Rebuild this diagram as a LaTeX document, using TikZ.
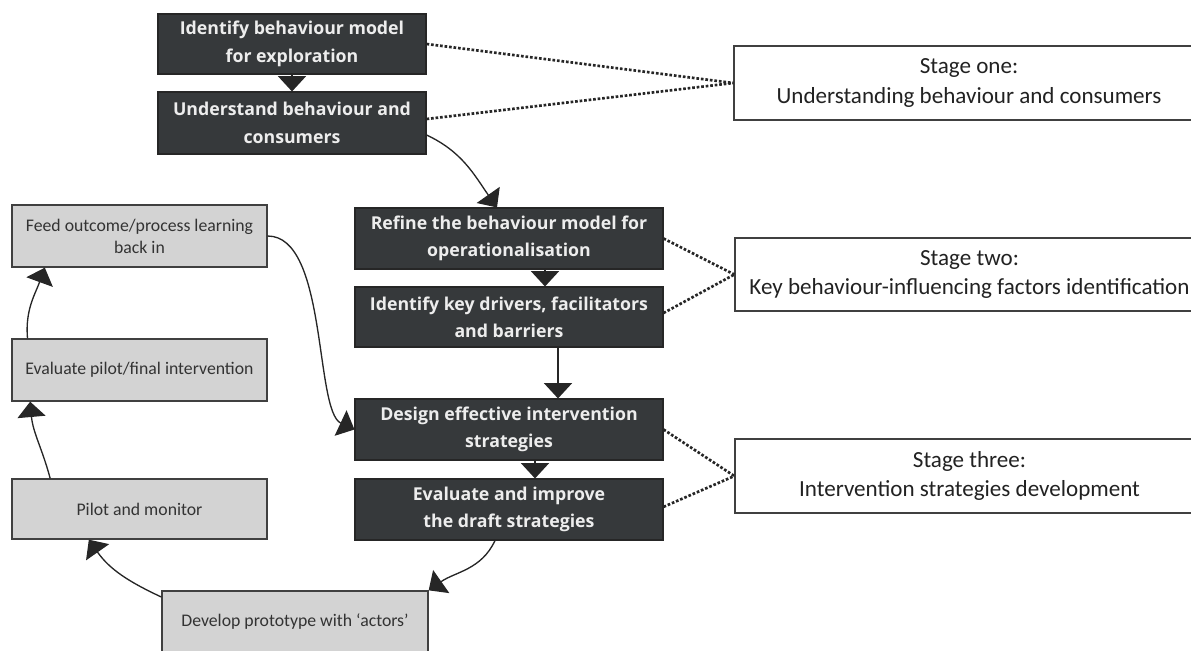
\documentclass[tikz,border=0pt]{standalone}
\usepackage{fontspec}
\setmainfont{Carlito}
\newfontfamily\darkfont{Open Sans}
\usetikzlibrary{arrows.meta,calc}
\definecolor{darkbox}{HTML}{36393B}
\definecolor{darktext}{HTML}{EDEDED}
\definecolor{lightbox}{HTML}{D3D3D3}
\definecolor{lighttext}{HTML}{333333}
\definecolor{stagetext}{HTML}{222222}
\tikzset{
  darknode/.style={draw=black!85, line width=0.8pt, fill=darkbox, text=darktext,
    font=\darkfont\bfseries\fontsize{13.3}{20.5}\selectfont, align=center, inner sep=0pt},
  lightnode/.style={draw=black!75, line width=1pt, fill=lightbox, text=lighttext,
    font=\fontsize{13.3}{16.5}\selectfont, align=center, inner sep=0pt},
  stagenode/.style={draw=black!75, line width=1pt, fill=white, text=stagetext,
    font=\fontsize{17.3}{22}\selectfont, align=center, inner sep=0pt},
  arr/.style={line width=1pt, black!85, -{Triangle[width=21pt,length=11.5pt]}},
  dotline/.style={line width=2pt, black!85, dash pattern=on 2pt off 1.4pt}
}
\begin{document}
\begin{tikzpicture}[x=0.75pt,y=-0.75pt]
\useasboundingbox (0,0) rectangle (1191,650);
\clip (0,0) rectangle (1191,650);
% dark process boxes
\node[darknode, minimum width=201pt, minimum height=45pt] (A1) at (292,44) {Identify behaviour model\\for exploration};
\node[darknode, minimum width=201pt, minimum height=46.5pt] (A2) at (292,123) {Understand behaviour and\\consumers};
\node[darknode, minimum width=231pt, minimum height=45.75pt] (B1) at (509,238.5) {Refine the behaviour model for\\operationalisation};
\node[darknode, minimum width=231pt, minimum height=45pt] (B2) at (509,317) {Identify key drivers, facilitators\\and barriers};
\node[darknode, minimum width=231pt, minimum height=45.75pt] (C1) at (509,429.5) {Design effective intervention\\strategies};
\node[darknode, minimum width=231pt, minimum height=45.75pt] (C2) at (509,509.5) {Evaluate and improve\\the draft strategies};
% stage boxes
\node[stagenode, minimum width=352.5pt, minimum height=55.5pt] (S1) at (969,83) {Stage one:\\Understanding behaviour and consumers};
\node[stagenode, minimum width=351.75pt, minimum height=54.75pt] (S2) at (969.5,274.5) {Stage two:\\Key behaviour-influencing factors identification};
\node[stagenode, minimum width=351.75pt, minimum height=55.5pt] (S3) at (969.5,476) {Stage three:\\Intervention strategies development};
% light loop boxes
\node[lightnode, minimum width=191.25pt, minimum height=46.5pt] (L1) at (139.5,236) {Feed outcome/process learning\\back in};
\node[lightnode, minimum width=191.25pt, minimum height=46.5pt] (L2) at (139.5,370) {Evaluate pilot/final intervention};
\node[lightnode, minimum width=191.25pt, minimum height=45pt] (L3) at (139.5,509) {Pilot and monitor};
\node[lightnode, minimum width=199.5pt, minimum height=46.5pt] (L4) at (295,622) {Develop prototype with ‘actors’};
% dotted links to stages
\draw[dotline] (A1.east) -- (S1.west);
\draw[dotline] ([yshift=3pt]A2.east) -- (S1.west);
\draw[dotline] (B1.east) -- (S2.west);
\draw[dotline] ([yshift=3pt]B2.east) -- (S2.west);
\draw[dotline] (C1.east) -- (S3.west);
\draw[dotline] ([yshift=2pt]C2.east) -- (S3.west);
% straight arrows
\draw[arr] (A1.south) -- (A2.north);
\draw[arr] ([xshift=27pt]B1.south) -- ([xshift=27pt]B2.north);
\draw[arr] ([xshift=36.75pt]B2.south) -- ([xshift=36.75pt]C1.north);
\draw[arr] ([xshift=19.5pt]C1.south) -- ([xshift=19.5pt]C2.north);
% curved arrows
\draw[arr] ([yshift=-9pt]A2.east) to[out=-25,in=125] ([xshift=-9pt]B1.north);
\draw[arr] (L1.east) .. controls +(45pt,0pt) and +(-30pt,14pt) .. (C1.west);
\draw[arr] ([xshift=-10.5pt]C2.south) to[out=-115,in=35] (L4.north east);
\draw[arr] ([yshift=-5pt]L4.north west) to[out=155,in=-55] ([xshift=-38pt]L3.south);
\draw[arr] ([xshift=-67pt]L3.north) to[out=105,in=-85] ([xshift=-82pt]L2.south);
\draw[arr] ([xshift=-84pt]L2.north) to[out=95,in=-110] ([xshift=-71pt]L1.south);
\end{tikzpicture}
\end{document}
